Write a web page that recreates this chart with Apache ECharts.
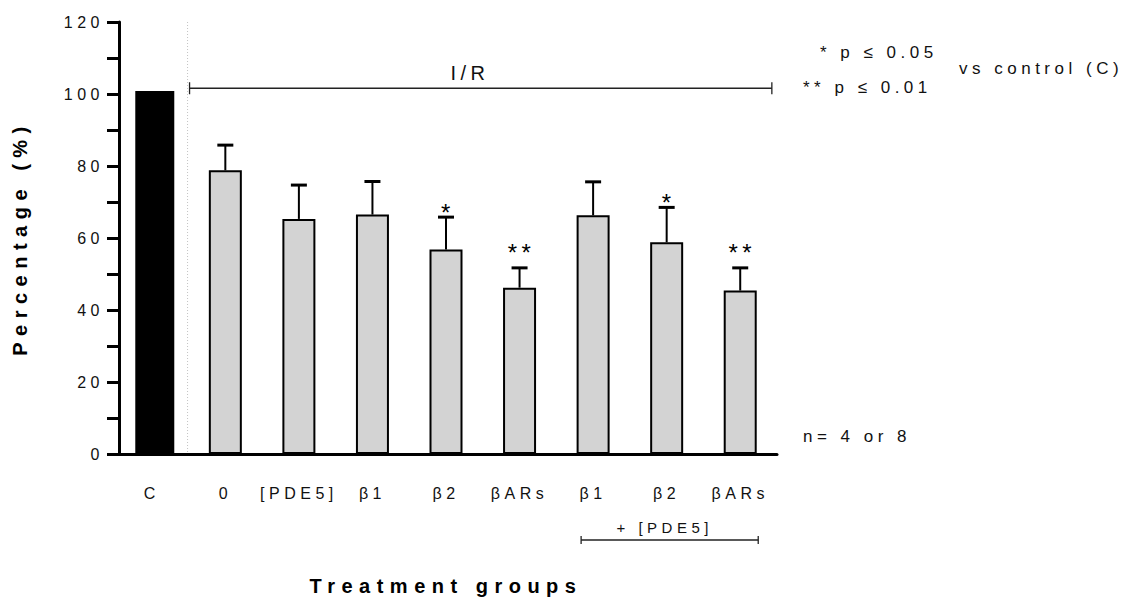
<!doctype html>
<html lang="en">
<head>
<meta charset="UTF-8">
<title>Percentage by treatment group</title>
<style>
    html, body {margin: 0; padding: 0; background: #fff;}
    #chart {width: 1126px; height: 601px;}
    /* the original figure has widely spaced letters */
    #chart text {letter-spacing: 4.5px;}
    #chart text[style*="bold"] {letter-spacing: 6.5px;}
</style>
</head>
<body>
<div id="chart"></div>
<script src="https://cdn.jsdelivr.net/npm/echarts@6/dist/echarts.min.js"></script>
<script>
var categories = ['C', '0', '[PDE5]', 'β1', 'β2', 'βARs', 'β1', 'β2', 'βARs'];
var meanValues = [100.8, 78.8, 65.3, 66.5, 56.8, 46.2, 66.3, 58.8, 45.4];
var errorValues = [0, 7.0, 9.4, 9.2, 9.0, 5.5, 9.3, 9.7, 6.3];
var significance = ['', '', '', '', '*', '**', '', '*', '**'];
var yTicks = [0, 20, 40, 60, 80, 100, 120];

var FONT = '"Liberation Sans", Arial, sans-serif';

var controlData = meanValues.map(function (v, i) { return i === 0 ? v : '-'; });
var treatedData = meanValues.map(function (v, i) { return i === 0 ? '-' : v; });
var errorData = meanValues.map(function (v, i) { return [i, v, v + errorValues[i]]; });

var chart = echarts.init(document.getElementById('chart'), null, {renderer: 'svg'});

chart.setOption({
    animation: false,
    backgroundColor: '#fff',
    grid: {left: 115, width: 662, top: 22, bottom: 143},
    xAxis: {
        type: 'category',
        data: categories,
        name: 'Treatment groups',
        nameLocation: 'middle',
        nameGap: 122,
        nameTextStyle: {fontFamily: FONT, fontSize: 20, fontWeight: 'bold', color: '#000'},
        axisLine: {lineStyle: {color: '#000', width: 3}},
        axisTick: {alignWithLabel: true, length: 11, lineStyle: {color: '#000', width: 3}},
        axisLabel: {fontFamily: FONT, fontSize: 16, color: '#111', margin: 31},
        splitLine: {show: false}
    },
    yAxis: {
        type: 'value',
        min: yTicks[0],
        max: yTicks[yTicks.length - 1],
        interval: yTicks[1] - yTicks[0],
        offset: -4,
        name: 'Percentage (%)',
        nameLocation: 'middle',
        nameGap: 89,
        nameTextStyle: {fontFamily: FONT, fontSize: 20, fontWeight: 'bold', color: '#000'},
        axisLine: {show: true, lineStyle: {color: '#000', width: 3}},
        axisTick: {show: true, length: 12, lineStyle: {color: '#000', width: 3}},
        minorTick: {show: true, splitNumber: 2, length: 12, lineStyle: {color: '#000', width: 3}},
        axisLabel: {fontFamily: FONT, fontSize: 16, color: '#111', margin: 15},
        splitLine: {show: false}
    },
    series: [
        {
            name: 'control',
            type: 'bar',
            data: controlData,
            barWidth: 39,
            barGap: '-100%',
            itemStyle: {color: '#000'}
        },
        {
            name: 'I/R',
            type: 'bar',
            data: treatedData,
            barWidth: 33,
            barGap: '-100%',
            itemStyle: {color: '#d3d3d3', borderColor: '#000', borderWidth: 2}
        },
        {
            name: 'SEM',
            type: 'custom',
            data: errorData,
            encode: {x: 0, y: [1, 2]},
            z: 5,
            renderItem: function (params, api) {
                var i = api.value(0);
                var base = api.coord([i, api.value(1)]);
                var top = api.coord([i, api.value(2)]);
                var children = [];
                if (api.value(2) > api.value(1)) {
                    children.push({
                        type: 'line',
                        shape: {x1: base[0], y1: base[1], x2: top[0], y2: top[1]},
                        style: {stroke: '#000', lineWidth: 2}
                    });
                    children.push({
                        type: 'line',
                        shape: {x1: top[0] - 8, y1: top[1], x2: top[0] + 8, y2: top[1]},
                        style: {stroke: '#000', lineWidth: 3}
                    });
                }
                var sig = significance[params.dataIndex];
                if (sig) {
                    children.push({
                        type: 'text',
                        style: {
                            text: sig,
                            x: top[0] + 2,
                            y: top[1] - (sig.length > 1 ? 15 : 5),
                            align: 'center',
                            verticalAlign: 'middle',
                            font: '24px ' + FONT,
                            fill: '#000'
                        }
                    });
                }
                return {type: 'group', children: children};
            }
        }
    ]
});

// annotation lines placed from the axes
function px(i, v) { return chart.convertToPixel({gridIndex: 0}, [i, v]); }
var band = px(1, 0)[0] - px(0, 0)[0];
var splitX = (px(0, 0)[0] + px(1, 0)[0]) / 2 - 1;
var plotTop = px(0, 120)[1];
var plotBottom = px(0, 0)[1];
var irY = px(0, 101.6)[1];
var irLeft = splitX + 2;
var irRight = px(8, 0)[0] + band * 0.43;
var pdeLeft = px(6, 0)[0] - 12;
var pdeRight = px(8, 0)[0] + 18;
var pdeY = 540;

var lineStyle = {stroke: '#222', lineWidth: 1.3};
function text(str, x, y, size, align) {
    return {
        type: 'text', x: x, y: y,
        style: {text: str, font: size + 'px ' + FONT, fill: '#111', align: align || 'left', verticalAlign: 'middle'}
    };
}

chart.setOption({
    graphic: [
        {type: 'line', shape: {x1: splitX, y1: plotTop, x2: splitX, y2: plotBottom},
            style: {stroke: '#c4c4c4', lineWidth: 1, lineDash: [1, 2]}},
        {type: 'line', shape: {x1: irLeft, y1: irY, x2: irRight, y2: irY}, style: lineStyle},
        {type: 'line', shape: {x1: irLeft, y1: irY - 6, x2: irLeft, y2: irY + 6}, style: lineStyle},
        {type: 'line', shape: {x1: irRight, y1: irY - 6, x2: irRight, y2: irY + 6}, style: lineStyle},
        text('I/R', 470, 73, 20, 'center'),
        {type: 'line', shape: {x1: pdeLeft, y1: pdeY, x2: pdeRight, y2: pdeY}, style: lineStyle},
        {type: 'line', shape: {x1: pdeLeft, y1: pdeY - 4, x2: pdeLeft, y2: pdeY + 4}, style: lineStyle},
        {type: 'line', shape: {x1: pdeRight, y1: pdeY - 4, x2: pdeRight, y2: pdeY + 4}, style: lineStyle},
        text('+ [PDE5]', px(7, 0)[0] - 2, 527, 15, 'center'),
        text('* p ≤ 0.05', 820, 52, 17),
        text('** p ≤ 0.01', 803, 87, 17),
        text('vs control (C)', 959, 68, 17),
        text('n= 4 or 8', 803, 436, 17)
    ]
});
</script>
</body>
</html>
